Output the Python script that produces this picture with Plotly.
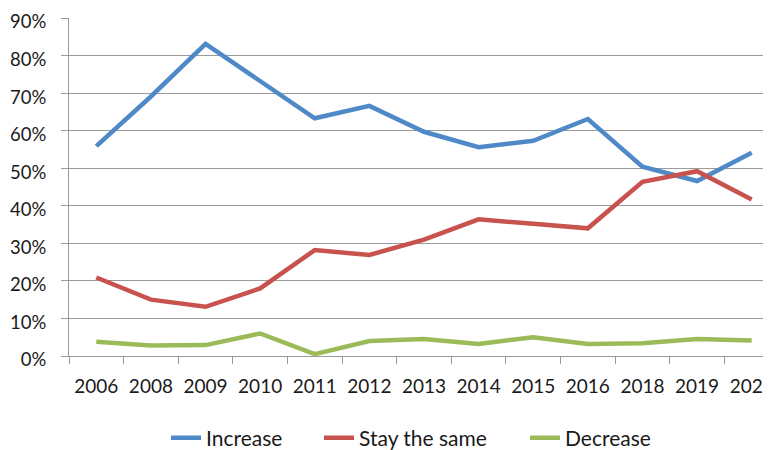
import plotly.graph_objects as go

years = ["2006", "2008", "2009", "2010", "2011", "2012", "2013",
         "2014", "2015", "2016", "2018", "2019", "2020"]

increase = [0.559, 0.691, 0.831, 0.732, 0.633, 0.666, 0.597,
            0.556, 0.573, 0.631, 0.504, 0.466, 0.541]
stay_same = [0.209, 0.150, 0.131, 0.180, 0.282, 0.269, 0.310,
             0.364, 0.352, 0.340, 0.464, 0.492, 0.417]
decrease = [0.038, 0.028, 0.029, 0.060, 0.005, 0.040, 0.045,
            0.032, 0.050, 0.032, 0.034, 0.045, 0.041]

series = [
    ("Increase", increase, "#4F89C7"),
    ("Stay the same", stay_same, "#C8524E"),
    ("Decrease", decrease, "#9BBB59"),
]

# one legend per series so each entry can sit where the original has it
legend_keys = ["legend", "legend2", "legend3"]
legend_text_x = [207, 360, 566]   # page px where each label starts

fig = go.Figure()
for (name, vals, color), key in zip(series, legend_keys):
    fig.add_trace(go.Scatter(
        x=years, y=vals, name=name, mode="lines", legend=key,
        line=dict(color=color, width=4.5)
    ))

grid = "#9A9A9A"
# the page body has an 8px margin, so the figure starts at (8, 8);
# the plot runs past the right edge of the window like the original crop
fig.update_layout(
    template="none",
    width=771, height=460,
    margin=dict(l=61, r=0, t=10, b=112, pad=0),
    plot_bgcolor="white", paper_bgcolor="white",
    font=dict(family="Lato", size=19, color="#1a1a1a"),
    showlegend=True,
)
for key, tx in zip(legend_keys, legend_text_x):
    fig.update_layout({key: dict(
        orientation="h", x=(tx - 41 - 69) / 710, xanchor="left",
        y=-82 / 338, yanchor="middle", font=dict(size=21),
        bgcolor="rgba(0,0,0,0)",
    )})

fig.update_xaxes(
    type="category", range=[-0.5, 12.5], automargin=False,
    showgrid=False, showline=True, linecolor=grid, linewidth=1,
    ticks="outside", tickson="boundaries", ticklen=7, tickcolor=grid,
    ticklabelstandoff=13, tickfont=dict(size=19),
)
fig.update_yaxes(
    range=[0, 0.9], dtick=0.1, tickformat=".0%", automargin=False,
    showgrid=True, gridcolor=grid, gridwidth=1,
    showline=True, linecolor=grid, linewidth=1,
    ticks="outside", ticklen=7, tickcolor=grid, ticklabeloverflow="allow",
    zeroline=False, ticklabelstandoff=11, ticklabelshift=4,
    tickfont=dict(size=18.5),
)

fig.write_html("out.html")
